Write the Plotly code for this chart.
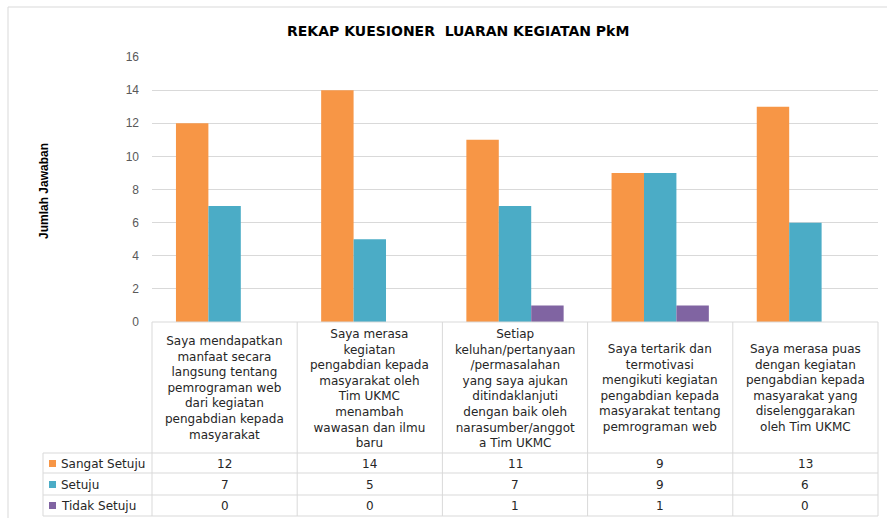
import plotly.graph_objects as go

categories = [
    "Saya mendapatkan<br>manfaat secara<br>langsung tentang<br>pemrograman web<br>dari kegiatan<br>pengabdian kepada<br>masyarakat",
    "Saya merasa<br>kegiatan<br>pengabdian kepada<br>masyarakat oleh<br>Tim UKMC<br>menambah<br>wawasan dan ilmu<br>baru",
    "Setiap<br>keluhan/pertanyaan<br>/permasalahan<br>yang saya ajukan<br>ditindaklanjuti<br>dengan baik oleh<br>narasumber/anggot<br>a Tim UKMC",
    "Saya tertarik dan<br>termotivasi<br>mengikuti kegiatan<br>pengabdian kepada<br>masyarakat tentang<br>pemrograman web",
    "Saya merasa puas<br>dengan kegiatan<br>pengabdian kepada<br>masyarakat yang<br>diselenggarakan<br>oleh Tim UKMC",
]
series_names = ["Sangat Setuju", "Setuju", "Tidak Setuju"]
sangat_setuju = [12, 14, 11, 9, 13]
setuju = [7, 5, 7, 9, 6]
tidak_setuju = [0, 0, 1, 1, 0]
y_ticks = [0, 2, 4, 6, 8, 10, 12, 14, 16]

colors = ["#F79646", "#4BACC6", "#8064A2"]
series_values = [sangat_setuju, setuju, tidak_setuju]

W, H = 887, 518
L, R, T, B = 152, 9, 57, 196
pw, ph = W - L - R, H - T - B


def px(xp):
    return (xp - L) / pw


def py(yp):
    return (H - B - yp) / ph


x_idx = list(range(len(categories)))

fig = go.Figure()
for name, vals, c in zip(series_names, series_values, colors):
    fig.add_trace(go.Bar(x=x_idx, y=vals, name=name, marker=dict(color=c, line=dict(width=0))))

line_col = "#d9d9d9"
shapes = []
# outer frame
shapes.append(dict(type="line", xref="paper", yref="paper", x0=px(8), x1=px(887), y0=py(7), y1=py(7),
                   line=dict(color=line_col, width=1)))
shapes.append(dict(type="line", xref="paper", yref="paper", x0=px(8), x1=px(8), y0=py(7), y1=py(518),
                   line=dict(color=line_col, width=1)))
# table top line
shapes.append(dict(type="line", xref="paper", yref="paper", x0=0, x1=1, y0=0, y1=0,
                   line=dict(color=line_col, width=1)))
# vertical column lines
n = len(categories)
for i in range(n + 1):
    shapes.append(dict(type="line", xref="paper", yref="paper", x0=i / n, x1=i / n, y0=0, y1=py(516),
                       line=dict(color=line_col, width=1)))
# row lines
for yy in [453, 473, 495, 516]:
    shapes.append(dict(type="line", xref="paper", yref="paper", x0=px(43), x1=1, y0=py(yy), y1=py(yy),
                       line=dict(color=line_col, width=1)))
shapes.append(dict(type="line", xref="paper", yref="paper", x0=px(43), x1=px(43), y0=py(453), y1=py(516),
                   line=dict(color=line_col, width=1)))

row_centers = [463.5, 484.5, 505.5]
annotations = []
text_font = dict(family="DejaVu Sans", size=12, color="#262626")
for rc, name, vals, c in zip(row_centers, series_names, series_values, colors):
    shapes.append(dict(type="rect", xref="paper", yref="paper", x0=px(49), x1=px(56),
                       y0=py(rc - 3.5), y1=py(rc + 3.5), fillcolor=c, line=dict(width=0)))
    annotations.append(dict(text=name, xref="paper", yref="paper", x=px(59), y=py(rc),
                            xanchor="left", yanchor="middle", showarrow=False, font=text_font))
    for i, v in enumerate(vals):
        annotations.append(dict(text=str(v), xref="x", yref="paper", x=i, y=py(rc),
                                xanchor="center", yanchor="middle", showarrow=False, font=text_font))

for i, cat in enumerate(categories):
    annotations.append(dict(text=cat, xref="x", yref="paper", x=i, y=py(388),
                            xanchor="center", yanchor="middle", showarrow=False, align="center",
                            font=text_font))

# y axis title
annotations.append(dict(text="<b>Jumlah Jawaban</b>", xref="paper", yref="paper", x=px(44), y=py(191),
                        xanchor="center", yanchor="middle", showarrow=False, textangle=-90,
                        font=dict(family="Liberation Sans Narrow, Liberation Sans", size=12, color="#000000")))
# chart title
annotations.append(dict(text="<b>REKAP KUESIONER  LUARAN KEGIATAN PkM</b>", xref="paper", yref="paper",
                        x=px(458), y=py(31), xanchor="center", yanchor="middle", showarrow=False,
                        font=dict(family="DejaVu Sans", size=14, color="#000000")))

fig.update_layout(
    width=W, height=H,
    margin=dict(l=L, r=R, t=T, b=B),
    paper_bgcolor="white", plot_bgcolor="white",
    barmode="group", bargap=0.33, bargroupgap=0,
    showlegend=False,
    shapes=shapes, annotations=annotations,
    xaxis=dict(range=[-0.5, n - 0.5], showticklabels=False, showgrid=False, zeroline=False,
               showline=False, fixedrange=True),
    yaxis=dict(range=[0, 16], tickvals=y_ticks, showgrid=True, gridcolor=line_col, gridwidth=1,
               zeroline=False, showline=False, ticklabelstandoff=12,
               tickfont=dict(family="Liberation Sans", size=12, color="#595959")),
)

fig.write_html("out.html", config={"displayModeBar": False},
               post_script="document.body.style.margin='0';document.body.style.overflow='hidden';")
